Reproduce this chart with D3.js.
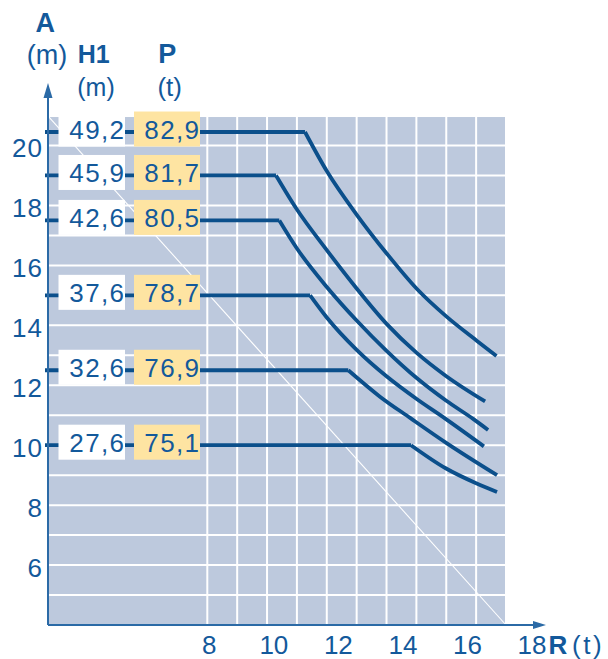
<!DOCTYPE html>
<html>
<head>
<meta charset="utf-8">
<script src="https://cdn.jsdelivr.net/npm/d3@7/dist/d3.min.js"></script>
<style>
  html, body { margin: 0; padding: 0; background: #fff; }
  svg { display: block; }
  text { font-family: "Liberation Sans", Arial, Helvetica, sans-serif; }
</style>
</head>
<body>
<svg id="chart" width="608" height="659"></svg>
<script>
// ---- data ----
const rTicks = [8, 10, 12, 14, 16, 18];
const aTicks = [6, 8, 10, 12, 14, 16, 18, 20];
const gridR = [8, 9, 10, 11, 12, 13, 14, 15, 16, 17, 18];
const gridA = [5, 6, 7, 8, 9, 10, 11, 12, 13, 14, 15, 16, 17, 18, 19, 20];
const h1Labels = ["49,2", "45,9", "42,6", "37,6", "32,6", "27,6"];
const pLabels  = ["82,9", "81,7", "80,5", "78,7", "76,9", "75,1"];
const levelA   = [20.45, 19, 17.5, 15, 12.5, 10];
// descending parts of each curve: [R, A], first point = break point
const curve1 = [[11.27,20.45],[12.01,19.13],[13.01,17.68],[14.02,16.38],[15.02,15.21],[16.02,14.28],[17.03,13.48],[17.68,12.98]];
const curve2 = [[10.30,19.0],[10.99,17.88],[12.0,16.51],[13.0,15.23],[14.01,14.04],[15.01,13.08],[15.99,12.31],[17.30,11.46]];
const curve3 = [[10.41,17.5],[10.99,16.58],[12.0,15.28],[13.0,14.16],[14.01,13.14],[15.01,12.24],[15.99,11.49],[16.91,10.87],[17.40,10.51]];
const curve4 = [[11.44,15.0],[12.0,14.26],[13.0,13.18],[14.01,12.29],[15.01,11.54],[15.99,10.87],[17.26,9.96]];
const curve5 = [[12.72,12.5],[13.78,11.62],[14.79,10.91],[16.01,10.07],[17.70,9.0]];
const curve6 = [[14.82,10.0],[15.98,9.23],[17.0,8.73],[17.70,8.44]];
const curves = [curve1, curve2, curve3, curve4, curve5, curve6];
const aMin = 4, aTop = 20.95;

// ---- style / layout ----
const textBlue = "#13599b";
const lineBlue = "#0b4f8b";
const axisBlue = "#2b6aa6";
const greyFill = "#bdc9dd";
const yellow   = "#fee4a2";
const plotLeft = 48;

const svg = d3.select("#chart");
const x = d3.scaleLinear().domain([8, 18]).range([207.3, 506]);
const xLab = d3.scaleLinear().domain([8, 18]).range([209.3, 532]);
const y = d3.scaleLinear().domain([4, 20]).range([625, 145.5]);

// background
svg.append("rect")
  .attr("x", plotLeft).attr("y", y(aTop))
  .attr("width", x(18) - plotLeft).attr("height", y(aMin) - y(aTop))
  .attr("fill", greyFill);

// grid
svg.append("g").selectAll("line").data(gridA).join("line")
  .attr("x1", plotLeft).attr("x2", x(18))
  .attr("y1", d => y(d)).attr("y2", d => y(d))
  .attr("stroke", "#fff").attr("stroke-width", 2);
svg.append("g").selectAll("line").data(gridR).join("line")
  .attr("x1", d => x(d)).attr("x2", d => x(d))
  .attr("y1", y(aTop)).attr("y2", y(aMin))
  .attr("stroke", "#fff").attr("stroke-width", 2);

// diagonal
svg.append("line")
  .attr("x1", plotLeft + 1).attr("y1", y(aTop))
  .attr("x2", x(18)).attr("y2", y(aMin))
  .attr("stroke", "#fff").attr("stroke-width", 1.1);

// curves
const curveLine = d3.line().x(d => x(d[0])).y(d => y(d[1])).curve(d3.curveMonotoneX);
curves.forEach((c, i) => {
  svg.append("line")
    .attr("x1", plotLeft - 3).attr("x2", x(c[0][0]))
    .attr("y1", y(levelA[i])).attr("y2", y(levelA[i]))
    .attr("stroke", lineBlue).attr("stroke-width", 3.8);
  svg.append("path")
    .attr("d", curveLine(c))
    .attr("fill", "none").attr("stroke", lineBlue)
    .attr("stroke-width", 3.8).attr("stroke-linejoin", "round");
});

// label boxes
const boxes = svg.append("g");
levelA.forEach((a, i) => {
  const cy = y(a);
  boxes.append("rect").attr("x", 58.5).attr("y", cy - 20.5).attr("width", 66.5).attr("height", 35).attr("fill", "#fff");
  boxes.append("rect").attr("x", 134).attr("y", cy - 20.5).attr("width", 66).attr("height", 35).attr("fill", yellow);
  boxes.append("text").attr("x", 125.5).attr("y", cy + 6.5).attr("text-anchor", "end")
    .attr("font-size", 26).attr("letter-spacing", 1.4).attr("fill", textBlue).text(h1Labels[i]);
  boxes.append("text").attr("x", 200.5).attr("y", cy + 6.5).attr("text-anchor", "end")
    .attr("font-size", 26).attr("letter-spacing", 1.4).attr("fill", textBlue).text(pLabels[i]);
});

// axes
svg.append("line").attr("x1", plotLeft).attr("x2", plotLeft).attr("y1", y(aMin)).attr("y2", 97)
  .attr("stroke", axisBlue).attr("stroke-width", 2);
svg.append("path").attr("d", `M${plotLeft - 4.5},98 L${plotLeft},83 L${plotLeft + 4.5},98 Z`).attr("fill", axisBlue);
svg.append("line").attr("x1", plotLeft).attr("x2", 534).attr("y1", y(aMin)).attr("y2", y(aMin))
  .attr("stroke", axisBlue).attr("stroke-width", 2);
svg.append("path").attr("d", `M533,${y(aMin) - 4} L546,${y(aMin)} L533,${y(aMin) + 4} Z`).attr("fill", axisBlue);

// tick labels
svg.append("g").selectAll("text").data(aTicks).join("text")
  .attr("x", 43).attr("y", d => y(d) + 11.5).attr("text-anchor", "end")
  .attr("font-size", 26).attr("letter-spacing", 1).attr("fill", textBlue).text(d => d);
svg.append("g").selectAll("text").data(rTicks).join("text")
  .attr("x", d => xLab(d)).attr("y", 654).attr("text-anchor", "middle")
  .attr("font-size", 26).attr("fill", textBlue).text(d => d);

// axis titles
const t = (txt, xx, yy, size, bold, anchor, ls) => svg.append("text")
  .attr("x", xx).attr("y", yy).attr("font-size", size)
  .attr("font-weight", bold ? "bold" : "normal")
  .attr("text-anchor", anchor || "middle")
  .attr("letter-spacing", ls || 0)
  .attr("fill", textBlue).text(txt);
t("A", 45.3, 32, 27, true);
t("(m)", 47, 63.5, 27, false);
t("H1", 93.7, 63.3, 25, true);
t("(m)", 96, 96, 25, false);
t("P", 167.3, 63.3, 27, true);
t("(t)", 169.7, 96, 26, false);
t("R", 548.5, 654, 26, true, "start");
t("(t)", 572, 654, 26, false, "start", 2.5);
</script>
</body>
</html>
